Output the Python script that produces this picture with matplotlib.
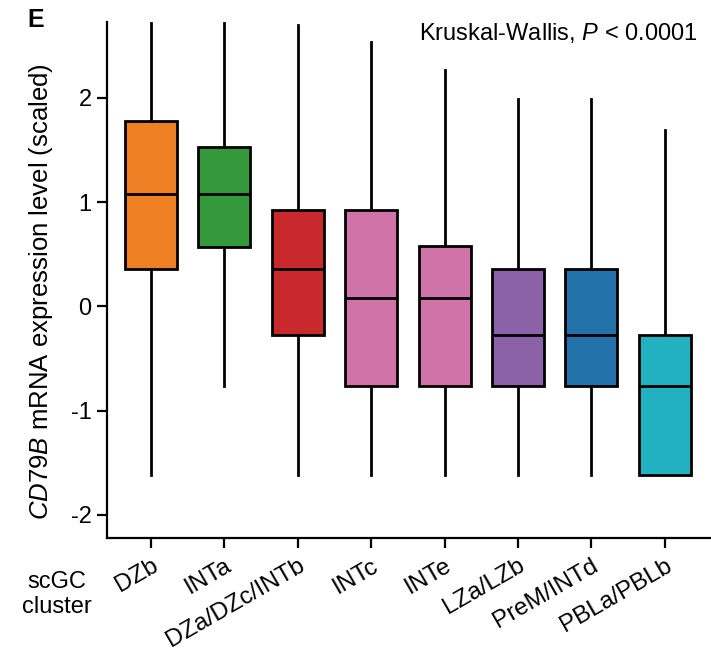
import matplotlib.pyplot as plt

plt.rcParams["font.family"] = ["Liberation Sans", "DejaVu Sans"]
plt.rcParams["mathtext.fontset"] = "custom"
plt.rcParams["mathtext.it"] = "Liberation Sans:italic"
plt.rcParams["mathtext.rm"] = "Liberation Sans"

# box statistics per scGC cluster
clusters = ["DZb", "INTa", "DZa/DZc/INTb", "INTc", "INTe", "LZa/LZb", "PreM/INTd", "PBLa/PBLb"]
whisker_hi = [2.72, 2.72, 2.70, 2.54, 2.27, 1.985, 1.985, 1.694]
q3 = [1.777, 1.527, 0.927, 0.927, 0.575, 0.355, 0.355, -0.272]
medians = [1.08, 1.08, 0.355, 0.08, 0.08, -0.272, -0.272, -0.767]
q1 = [0.355, 0.572, -0.272, -0.767, -0.767, -0.767, -0.767, -1.615]
whisker_lo = [-1.615, -0.764, -1.615, -1.615, -1.615, -1.615, -1.615, -1.615]
colors = ["#EE7F22", "#33993A", "#C9282C", "#CF73A8", "#CF73A8", "#8B62A8", "#2372A9", "#21B1C0"]

stats = []
for i, name in enumerate(clusters):
    stats.append({
        "label": name,
        "whislo": whisker_lo[i],
        "q1": q1[i],
        "med": medians[i],
        "q3": q3[i],
        "whishi": whisker_hi[i],
        "fliers": [],
    })

fig = plt.figure(figsize=(7.11, 6.53), dpi=100)
ax = fig.add_axes([0.1505, 0.1761, 0.8495, 0.7902])

bp = ax.bxp(
    stats,
    positions=range(1, len(clusters) + 1),
    widths=0.71,
    patch_artist=True,
    showcaps=False,
    showfliers=False,
    boxprops=dict(linewidth=2, edgecolor="black"),
    medianprops=dict(color="black", linewidth=2),
    whiskerprops=dict(color="black", linewidth=2),
)
for patch, c in zip(bp["boxes"], colors):
    patch.set_facecolor(c)

ax.set_xlim(0.4, 8.63)
ax.set_ylim(-2.222, 2.727)
ax.set_yticks([-2, -1, 0, 1, 2])
ax.set_yticklabels(["-2", "-1", "0", "1", "2"])
ax.set_xticks(range(1, len(clusters) + 1))
ax.set_xticklabels(clusters, rotation=30, ha="right", rotation_mode="anchor")

for side in ["top", "right"]:
    ax.spines[side].set_visible(False)
for side in ["left", "bottom"]:
    ax.spines[side].set_linewidth(1.6)
ax.tick_params(axis="both", which="major", length=7, width=1.6)
ax.tick_params(axis="y", labelsize=17, pad=4)
ax.tick_params(axis="x", labelsize=17.5, pad=5)

ax.set_ylabel(r"$\it{CD79B}$ mRNA expression level (scaled)", fontsize=18.5)
ax.yaxis.set_label_coords(-0.086, 0.478)

fig.text(0.08, 0.09, "scGC\ncluster", fontsize=17, ha="center", va="center", linespacing=1.2)
fig.text(0.038, 0.97, "E", fontsize=18, fontweight="bold", ha="left", va="center")
fig.text(0.981, 0.949, r"Kruskal-Wallis, $\it{P}$ < 0.0001", fontsize=17, ha="right", va="center")

plt.savefig("out.png", dpi=100)
